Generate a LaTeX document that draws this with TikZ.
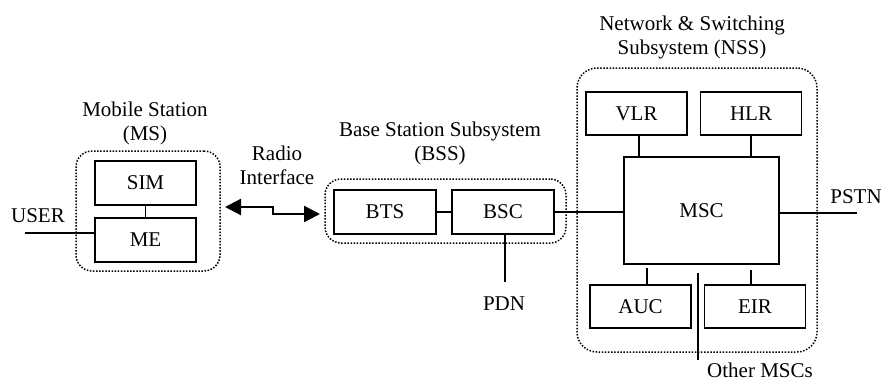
\documentclass[tikz,border=0pt]{standalone}
\usepackage{fontspec}
\setmainfont{Liberation Serif}
\usetikzlibrary{arrows.meta}
\begin{document}
\begin{tikzpicture}[x=1pt,y=-1pt,
  every node/.style={font=\fontsize{21}{24}\selectfont},
  box/.style={draw, line width=1.8pt, minimum width=101pt, minimum height=44pt, inner sep=0pt},
  grp/.style={draw, line width=1.5pt, dash pattern=on 1.5pt off 1.6pt, rounded corners=16pt, inner sep=0pt},
  lbl/.style={align=center, inner sep=0pt},
  ln/.style={line width=1.8pt},
  radio/.style={line width=2.4pt, {Triangle[length=16pt,width=16pt]}-{Triangle[length=16pt,width=16pt]}}]
\useasboundingbox (0,0) rectangle (882,380);
% groups
\node[grp, minimum width=144pt, minimum height=120pt] (msg) at (148,211) {};
\node[grp, minimum width=241pt, minimum height=64pt] (bssg) at (445.5,211) {};
\node[grp, minimum width=240pt, minimum height=284pt, rounded corners=20pt] (nssg) at (697,210) {};
% boxes
\node[box] (sim) at (145.5,183) {SIM};
\node[box] (me) at (145.5,240) {ME};
\node[box, minimum width=102pt] (bts) at (385,212) {BTS};
\node[box, minimum width=102pt] (bsc) at (503,212) {BSC};
\node[box, minimum height=43pt] (vlr) at (636.5,113.5) {VLR};
\node[box, minimum height=43pt] (hlr) at (751,113.5) {HLR};
\node[box, minimum width=155pt, minimum height=107pt] (msc) at (701.5,210.5) {MSC};
\node[box, minimum height=43pt] (auc) at (640.5,306.5) {AUC};
\node[box, minimum height=43pt] (eir) at (755,306.5) {EIR};
% labels
\node[lbl] (mslbl) at (145,123.5) {Mobile Station\\(MS)};
\node[lbl] (radiolbl) at (277,165.5) {Radio\\Interface};
\node[lbl] (bsslbl) at (440,143.5) {Base Station Subsystem\\(BSS)};
\node[lbl] (nsslbl) at (692,37) {Network \& Switching\\Subsystem (NSS)};
\node[lbl] (userlbl) at (38,216) {USER};
\node[lbl] (pstnlbl) at (856,197) {PSTN};
\node[lbl] (pdnlbl) at (504,304) {PDN};
\node[lbl] (otherlbl) at (760,370) {Other MSCs};
% coordinates
\coordinate (user) at (25,233);
\coordinate (ra) at (225,207);
\coordinate (rm) at (273,207);
\coordinate (rb) at (320,214);
\coordinate (pdn) at (505,282);
\coordinate (pstn) at (857,213);
\coordinate (vx) at (639,0);
\coordinate (hx) at (751,0);
\coordinate (aucx) at (647,268);
\coordinate (eirx) at (751,270);
\coordinate (oth1) at (698,273);
\coordinate (oth2) at (698,360);
% connectors
\draw[ln] (sim.south) -- (me.north);
\draw[ln] (user) -- (me.west |- user);
\draw[radio] (ra) -- (rm) |- (rb);
\draw[ln] (bts.east) -- (bsc.west);
\draw[ln] (bsc.east) -- (msc.west |- bsc.east);
\draw[ln] (bsc.south -| pdn) -- (pdn);
\draw[ln] (vlr.south -| vx) -- (msc.north -| vx);
\draw[ln] (hlr.south -| hx) -- (msc.north -| hx);
\draw[ln] (auc.north -| aucx) -- (aucx);
\draw[ln] (eir.north -| eirx) -- (eirx);
\draw[ln] (oth1) -- (oth2);
\draw[ln] (msc.east |- pstn) -- (pstn);
\end{tikzpicture}
\end{document}
